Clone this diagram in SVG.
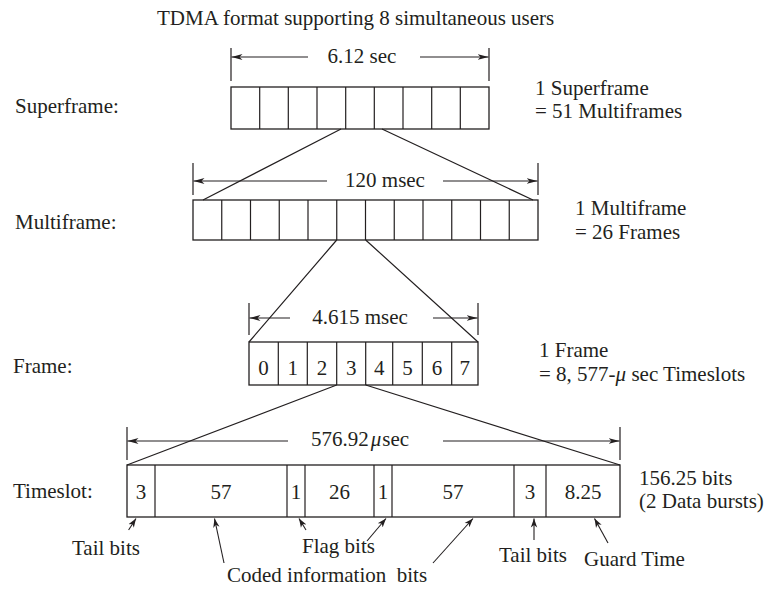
<svg xmlns="http://www.w3.org/2000/svg" width="765" height="592" viewBox="0 0 765 592">
<defs>
<style>
text{font-family:"Liberation Serif","Times New Roman",serif;font-size:21px;fill:#231f20}
.c{text-anchor:middle}
.box{fill:#fff;stroke:#231f20;stroke-width:1.3}
.ln{stroke:#231f20;stroke-width:1.2;fill:none}
.dim{stroke:#231f20;stroke-width:1.2;fill:none;marker-end:url(#ah)}
.ptr{stroke:#231f20;stroke-width:1.1;fill:none;marker-end:url(#as)}
</style>
<marker id="ah" markerUnits="userSpaceOnUse" markerWidth="12" markerHeight="8" refX="11" refY="4" orient="auto"><path d="M0,1 L11,4 L0,7 L3,4 z" fill="#231f20"/></marker>
<marker id="as" markerUnits="userSpaceOnUse" markerWidth="10" markerHeight="8" refX="9" refY="4" orient="auto"><path d="M0,0.8 L9,4 L0,7.2 L2.5,4 z" fill="#231f20"/></marker>
</defs>
<rect width="765" height="592" fill="#fff"/>
<text id="title" x="157" y="25">TDMA format supporting 8 simultaneous users</text>

<g id="labels">
<text x="15" y="113">Superframe:</text>
<text x="15" y="229">Multiframe:</text>
<text x="13" y="373">Frame:</text>
<text x="13" y="498">Timeslot:</text>
</g>

<g id="notes">
<text x="535" y="95">1 Superframe</text>
<text x="535" y="118">= 51 Multiframes</text>
<text x="575" y="215">1 Multiframe</text>
<text x="575" y="239">= 26 Frames</text>
<text x="539" y="357">1 Frame</text>
<text x="539" y="381">= 8, 577-<tspan font-style="italic">μ</tspan> sec Timeslots</text>
<text x="639" y="485">156.25 bits</text>
<text x="639" y="508">(2 Data bursts)</text>
</g>

<g id="superframe">
<rect class="box" x="231" y="87" width="258" height="42"/>
<path class="ln" d="M259.7,87V129M288.3,87V129M317,87V129M345.7,87V129M374.3,87V129M403,87V129M431.7,87V129M460.3,87V129"/>
</g>

<g id="multiframe">
<rect class="box" x="193" y="200" width="345" height="40"/>
<path class="ln" d="M221.75,200V240M250.5,200V240M279.25,200V240M308,200V240M336.75,200V240M365.5,200V240M394.25,200V240M423,200V240M451.75,200V240M480.5,200V240M509.25,200V240"/>
</g>

<g id="frame">
<rect class="box" x="249" y="342" width="229" height="43"/>
<path class="ln" d="M278.3,342V385M307.3,342V385M336.7,342V385M365.7,342V385M392.7,342V385M422.3,342V385M451.7,342V385"/>
<text class="c" x="263.6" y="375">0</text>
<text class="c" x="292.8" y="375">1</text>
<text class="c" x="322" y="375">2</text>
<text class="c" x="351.2" y="375">3</text>
<text class="c" x="379.2" y="375">4</text>
<text class="c" x="407.5" y="375">5</text>
<text class="c" x="437" y="375">6</text>
<text class="c" x="464.8" y="375">7</text>
</g>

<g id="timeslot">
<rect class="box" x="127" y="465" width="493" height="52"/>
<path class="ln" d="M155,465V517M287,465V517M305,465V517M374,465V517M392,465V517M514,465V517M546,465V517"/>
<text class="c" x="141" y="499">3</text>
<text class="c" x="221" y="499">57</text>
<text class="c" x="296" y="499">1</text>
<text class="c" x="339.5" y="499">26</text>
<text class="c" x="383" y="499">1</text>
<text class="c" x="453" y="499">57</text>
<text class="c" x="530" y="499">3</text>
<text class="c" x="583" y="499">8.25</text>
</g>

<g id="dimensions">
<path class="ln" d="M231,48V81M489,48V81"/>
<path class="dim" d="M308,57H231.5"/>
<path class="dim" d="M420,57H488.5"/>
<text class="c" x="362" y="63">6.12 sec</text>
<path class="ln" d="M193,163V195M538,163V195"/>
<path class="dim" d="M327,181H193.5"/>
<path class="dim" d="M443,181H537.5"/>
<text class="c" x="385" y="187">120 msec</text>
<path class="ln" d="M249,303V335M478,303V335"/>
<path class="dim" d="M290,318H249.5"/>
<path class="dim" d="M433,318H477.5"/>
<text class="c" x="360" y="324">4.615 msec</text>
<path class="ln" d="M127,427V460M620,427V460"/>
<path class="dim" d="M288,441H127.5"/>
<path class="dim" d="M443,441H619.5"/>
<text x="311" y="446">576.92<tspan dx="2" font-style="italic">μ</tspan><tspan dx="1">sec</tspan></text>
</g>

<g id="connectors">
<path class="ln" d="M341,129L203,200M382,129L533,200"/>
<path class="ln" d="M336.7,240L249,342M365.7,240L478,342"/>
<path class="ln" d="M336.7,385L127,465M365.7,385L620,465"/>
<path class="ptr" d="M128.6,530L136,518.5"/>
<path class="ptr" d="M224,563L214.5,518.5"/>
<path class="ptr" d="M306,530L299,518.5"/>
<path class="ptr" d="M367,541L386,518.5"/>
<path class="ptr" d="M433,563L473,518.5"/>
<path class="ptr" d="M534,540V518.5"/>
<path class="ptr" d="M608,543L594.5,518.5"/>
</g>

<g id="pointer-labels">
<text x="72" y="555">Tail bits</text>
<text x="302" y="553">Flag bits</text>
<text x="227" y="582" xml:space="preserve">Coded information  bits</text>
<text x="499" y="562">Tail bits</text>
<text x="584" y="566">Guard Time</text>
</g>
</svg>
